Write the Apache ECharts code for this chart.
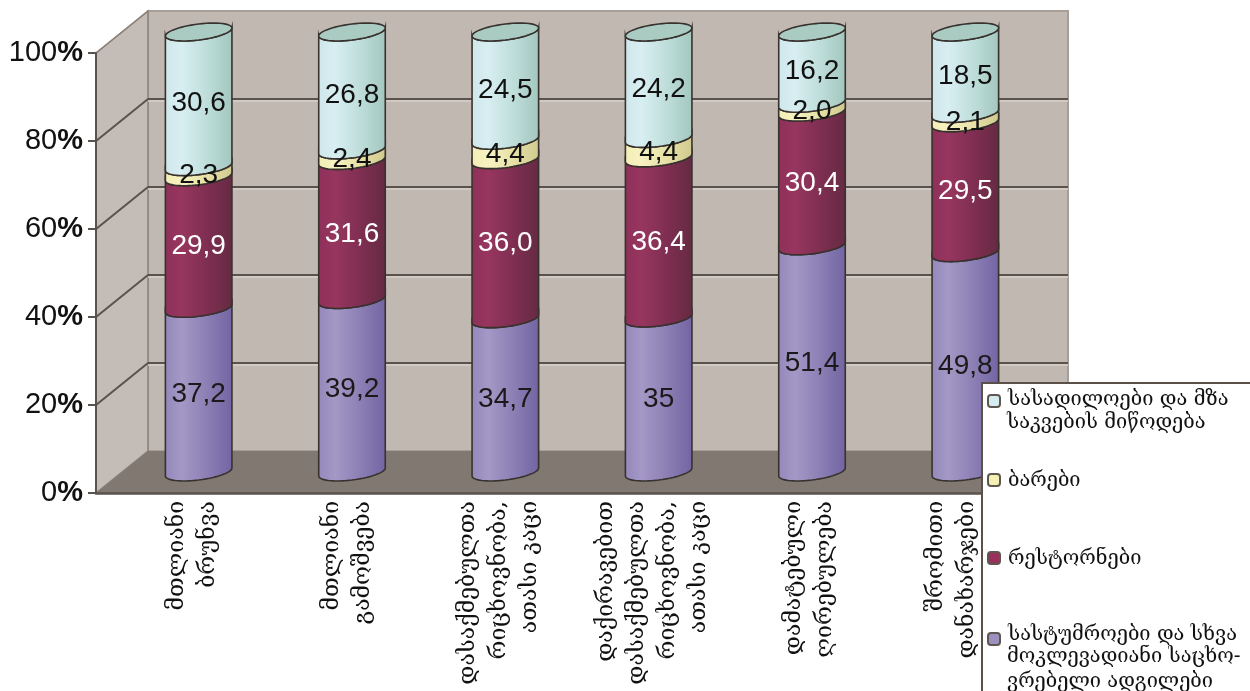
<!DOCTYPE html>
<html><head><meta charset="utf-8">
<style>html,body{margin:0;padding:0;background:#fff}#c{width:1250px;height:691px}</style>
<script src="https://cdn.jsdelivr.net/npm/echarts@6/dist/echarts.min.js"></script>
</head><body><div id="c"></div>
<script>
const categories = ['მთლიანი\nბრუნვა','მთლიანი\nგამოშვება','დასაქმებულთა\nრიცხოვნობა,\nათასი კაცი','დაქირავებით\nდასაქმებულთა\nრიცხოვნობა,\nათასი კაცი','დამატებული\nღირებულება','შრომითი\nდანახარჯები'];
const hotels = [37.2,39.2,34.7,35,51.4,49.8];
const restaurants = [29.9,31.6,36.0,36.4,30.4,29.5];
const bars = [2.3,2.4,4.4,4.4,2.0,2.1];
const canteens = [30.6,26.8,24.5,24.2,16.2,18.5];
const yTicks = [0,20,40,60,80,100];
const names = ['სასტუმროები და სხვა მოკლევადიანი საცხოვრებელი ადგილები','რესტორნები','ბარები','სასადილოები და მზა საკვების მიწოდება'];
const legendLines = [['სასტუმროები და სხვა','მოკლევადიანი საცხო-','ვრებელი ადგილები'],['რესტორნები'],['ბარები'],['სასადილოები და მზა','საკვების მიწოდება']];
const legendY = [632,558,480,398];
const swatchY = [638,557,479,400];
const labelLead = [40,44,40,40,48,24];
const solid = ['#9c90c0','#9a2f5c','#f5f0b4','#d4ecf0'];
const ramps = [['#9488bb','#a498c6','#8a7db3','#7264a2'],['#8e305a','#97365f','#7d2e50','#652a42'],['#f3edb6','#f7f2c0','#e5dfa4','#cfc990'],['#cfe6ea','#d8eef2','#bcdcd8','#a2c6bd']];
const labelColors = ['#1a1a1a','#ffffff','#111111','#111111'];
const capColor = '#a9cbc2', edge = '#38322e', wall = '#c1b8b2', floor = '#807871', gridDark = '#5a524c';
const DX = 52, DY = -42;
const totals = hotels.map((_,i)=>hotels[i]+restaurants[i]+bars[i]+canteens[i]);
const stacks = [hotels,restaurants,bars,canteens];
const fmt = v => v===35 ? '35' : v.toFixed(1).replace('.',',');
function rows(s){
  return stacks[s].map((v,i)=>{
    let lo=0; for(let k=0;k<s;k++) lo+=stacks[k][i];
    return [i, lo/totals[i]*100, (lo+v)/totals[i]*100, v];
  });
}
function arc(cx,cy,rx,ry,sh,rev){
  const p=[]; const n=28;
  for(let j=0;j<=n;j++){const t=Math.PI*(rev?n-j:j)/n; p.push([cx+rx*Math.cos(t), cy+ry*Math.sin(t)-sh*Math.cos(t)]);}
  return p;
}
function cyl(s){
  return function(params,api){
    const cat=api.value(0), lo=api.value(1), hi=api.value(2), raw=api.value(3);
    const band=api.size([1,0])[0], rx=band*0.217, ry=8, sh=4;
    const b=api.coord([cat,lo]), t=api.coord([cat,hi]);
    const cx=b[0]+DX/2, yb=b[1]+DY/2, yt=t[1]+DY/2;
    const r=ramps[s];
    const fill={type:'linear',x:0,y:0,x2:1,y2:0,colorStops:[{offset:0,color:r[0]},{offset:.25,color:r[1]},{offset:.65,color:r[2]},{offset:1,color:r[3]}]};
    const pts=arc(cx,yt,rx,ry,sh,false).concat(arc(cx,yb,rx,ry,sh,true));
    const kids=[{type:'polygon',shape:{points:pts},style:{fill:fill,stroke:edge,lineWidth:1.6},z2:s*2+1}];
    if(s===3){
      const ring=[];for(let j=0;j<=56;j++){const a=2*Math.PI*j/56;ring.push([cx+rx*Math.cos(a),yt+ry*Math.sin(a)-sh*Math.cos(a)]);}
      kids.push({type:'polygon',shape:{points:ring},style:{fill:capColor,stroke:edge,lineWidth:1.6},z2:s*2+2});
    }
    kids.push({type:'text',z2:100,style:{text:fmt(raw),x:cx,y:(yb+yt)/2+4,align:'center',verticalAlign:'middle',fill:labelColors[s],font:'28px "Liberation Sans",Arial,sans-serif'}});
    return {type:'group',children:kids};
  };
}
function chrome(params,api){
  const band=api.size([1,0])[0];
  const left=api.coord([0,0])[0]-band/2, right=api.coord([categories.length-1,0])[0]+band/2;
  const y0=api.coord([0,0])[1], y1=api.coord([0,100])[1];
  const kids=[
    {type:'polygon',shape:{points:[[left+DX,y0+DY],[right+DX,y0+DY],[right+DX,y1+DY],[left+DX,y1+DY]]},style:{fill:wall,stroke:'#a79e97',lineWidth:2}},
    {type:'polygon',shape:{points:[[left,y0],[left+DX,y0+DY],[left+DX,y1+DY],[left,y1]]},style:{fill:'#c4bcb6',stroke:'#8b827b',lineWidth:1.5}},
    {type:'polygon',shape:{points:[[left,y0],[right,y0],[right+DX,y0+DY],[left+DX,y0+DY]]},style:{fill:floor}}
  ];
  yTicks.forEach(v=>{
    const y=api.coord([0,v])[1];
    if(v>0&&v<100){
      kids.push({type:'line',shape:{x1:left+DX,y1:y+DY+2,x2:right+DX,y2:y+DY+2},style:{stroke:'#d6cfca',lineWidth:1.5}});
      kids.push({type:'line',shape:{x1:left+DX,y1:y+DY,x2:right+DX,y2:y+DY},style:{stroke:gridDark,lineWidth:2}});
    }
    if(v>0) kids.push({type:'line',shape:{x1:left,y1:y,x2:left+DX,y2:y+DY},style:{stroke:v===100?'#8b827b':gridDark,lineWidth:v===100?1.5:2}});
  });
  return {type:'group',children:kids};
}
const legendFont = '"DejaVu Serif","DejaVu Sans",serif';
const legendFontSize = 20;
const legends = names.map((n,i)=>{
  const d=(legendY[i]-swatchY[i])*0.65;
  return {
    z:100, data:[{name:n}], orient:'vertical', left:987, top:swatchY[i]-9-Math.abs(d), padding:0,
    itemWidth:12,itemHeight:12,itemGap:0,selectedMode:false,
    itemStyle:{borderColor:'#5f574f',borderWidth:2},
    formatter:()=>'{a|'+legendLines[i][0]+'}',
    textStyle:{rich:{a:{fontFamily:legendFont,fontSize:legendFontSize,color:'#111',lineHeight:24,padding:[Math.max(d,0)*2,0,Math.max(-d,0)*2,3]}}}
  };
});
const extras=[];
extras.push({type:'rect',z:95,shape:{x:982,y:383,width:280,height:320},style:{fill:'#fff',stroke:'#5a5048',lineWidth:2}});
legendLines.forEach((ls,i)=>ls.slice(1).forEach((t,j)=>extras.push({type:'text',z:101,x:1007,y:legendY[i]+25*(j+1),style:{text:t,font:legendFontSize+'px '+legendFont,fill:'#111',verticalAlign:'middle'}})));
const series=[{type:'custom',name:'__walls',z:1,silent:true,renderItem:chrome,data:[[0,0]],encode:{x:0,y:1},clip:false,tooltip:{show:false}}];
names.forEach((n,s)=>series.push({type:'custom',name:n,z:5,renderItem:cyl(s),data:rows(s),encode:{x:0,y:[1,2]},itemStyle:{color:solid[s]},clip:false}));
const leadRich={t:{fontFamily:legendFont,fontSize:23,lineHeight:31,color:'#111'}};
labelLead.forEach((h,i)=>{leadRich['s'+i]={fontSize:1,lineHeight:h};});
const chart=echarts.init(document.getElementById('c'),null,{renderer:'canvas'});
chart.setOption({
  animation:false,backgroundColor:'#fff',
  grid:{left:96,right:234,top:53,bottom:198,containLabel:false},
  legend:legends,
  xAxis:{type:'category',data:categories,boundaryGap:true,z:3,
    axisLine:{lineStyle:{color:gridDark,width:2.5}},
    axisTick:{length:8,alignWithLabel:false,lineStyle:{color:gridDark,width:2}},
    axisLabel:{interval:0,rotate:90,margin:8,color:'#111',
      formatter:(v,i)=>'{s'+i+'| }\n'+v.split('\n').map(l=>'{t|'+l+'}').join('\n'),
      rich:leadRich}},
  yAxis:{type:'value',min:0,max:100,interval:20,z:3,
    axisLine:{show:true,lineStyle:{color:gridDark,width:2}},
    axisTick:{show:true,length:8,lineStyle:{color:gridDark,width:2}},
    splitLine:{show:false},
    axisLabel:{margin:13,formatter:v=>'{d|'+v+'}{p|%}',rich:{d:{fontFamily:'"Liberation Sans",Arial,sans-serif',fontSize:29,color:'#111'},p:{fontFamily:'"Liberation Sans",Arial,sans-serif',fontSize:29,fontWeight:'bold',color:'#111'}}}},
  graphic:extras,
  series:series
});
</script></body></html>
